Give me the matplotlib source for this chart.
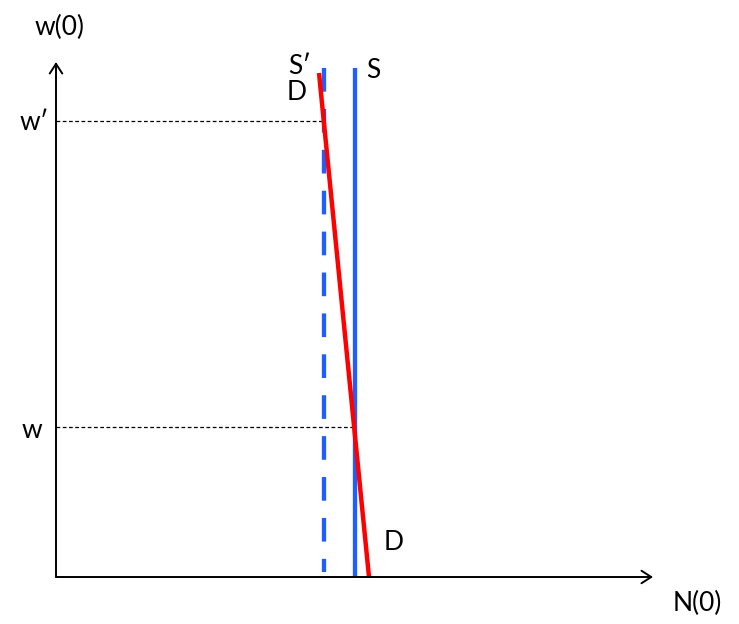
import numpy as np
import matplotlib
matplotlib.use('Agg')
import matplotlib.pyplot as plt

plt.rcParams['font.family'] = ['Lato', 'DejaVu Sans']

# values (origin at the axes corner, 1 unit ~ 1 px)
n_max = 597          # end of N(0) axis
w_max = 515          # end of w(0) axis
s_old = 299          # S  (solid)
s_new = 268          # S' (dashed)
s_top = 509
w_low = 150          # w
w_high = 456         # w'
d_n = [263, 313]     # demand line D, N values
d_w = [504, 0]       # demand line D, w values

blue = '#1f5fff'

fig = plt.figure(figsize=(7.39, 6.24), dpi=100)
ax = fig.add_axes([0, 0, 1, 1])
ax.set_xlim(-56, 739 - 56)
ax.set_ylim(-(624 - 577), 577)
ax.axis('off')

# axes with open arrow heads
arr = dict(arrowstyle='->,head_length=0.7,head_width=0.45', color='black', lw=1.4,
           shrinkA=0, shrinkB=0)
ax.annotate('', xy=(n_max, 0), xytext=(0, 0), arrowprops=arr)
ax.annotate('', xy=(0, w_max), xytext=(0, 0), arrowprops=arr)

# guide lines
ax.plot([0, s_new], [w_high, w_high], color='black', lw=0.9, ls=(0, (3, 2)))
ax.plot([0, s_old], [w_low, w_low], color='black', lw=0.9, ls=(0, (3, 2)))

# supply curves (dashed drawn from the top down)
ax.plot([s_new, s_new], [s_top, 5], color=blue, lw=3.1, ls=(0, (5.5, 4)),
        dash_capstyle='butt')
ax.plot([s_old, s_old], [0, s_top], color=blue, lw=3.1, solid_capstyle='butt')

# demand
ax.plot(d_n, d_w, color='red', lw=3.2, solid_capstyle='butt')

fs = 19
ax.text(4, 550, 'w(0)', fontsize=fs, ha='center', va='center')
ax.text(-22, 455, 'w\u2032', fontsize=fs, ha='center', va='center')
ax.text(-24, 147, 'w', fontsize=fs, ha='center', va='center')
ax.text(244, 510, 'S\u2032', fontsize=fs, ha='center', va='center')
ax.text(317, 506, 'S', fontsize=fs, ha='center', va='center')
ax.text(241, 484, 'D', fontsize=fs, ha='center', va='center')
ax.text(338, 34, 'D', fontsize=fs, ha='center', va='center')
ax.text(641, -26, 'N(0)', fontsize=fs, ha='center', va='center')

fig.savefig('out.png', dpi=100)
